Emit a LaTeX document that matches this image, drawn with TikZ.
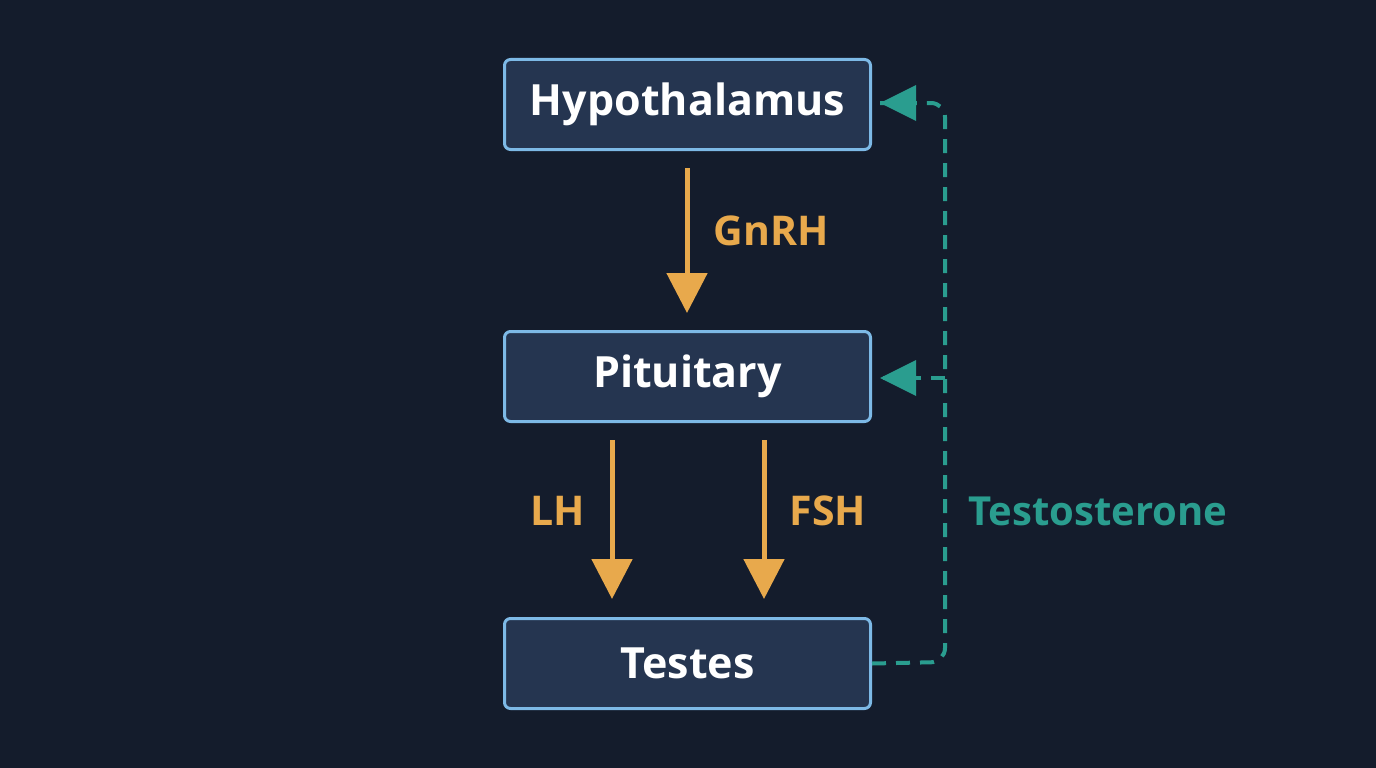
\documentclass[tikz,border=0pt]{standalone}
\usepackage{fontspec}
\setmainfont{Open Sans}
\usetikzlibrary{arrows.meta}
\definecolor{bg}{HTML}{141C2C}
\definecolor{boxf}{HTML}{253550}
\definecolor{boxd}{HTML}{7DB9E6}
\definecolor{org}{HTML}{E8A94C}
\definecolor{teal}{HTML}{2A9D8F}
\begin{document}
\begin{tikzpicture}[x=1pt,y=-1pt,
 box/.style={draw=boxd,line width=3pt,fill=boxf,rounded corners=6pt,minimum width=366pt,minimum height=90pt,text=white,font=\fontsize{43}{45}\selectfont\bfseries},
 oarr/.style={draw=org,line width=5pt,-{Triangle[width=40pt,length=40pt]}},
 olab/.style={text=org,font=\fontsize{41}{43}\selectfont\bfseries},
 tarr/.style={draw=teal,line width=4pt,dash pattern=on 14pt off 10pt,rounded corners=14pt}]
\fill[bg] (0,0) rectangle (1376,768);
\useasboundingbox (0,0) rectangle (1376,768);
\node[box] (h) at (687.5,104.5) {Hypothalamus};
\node[box] (p) at (687.5,376.5) {Pituitary};
\node[box] (t) at (687.5,663.5) {Testes};
\coordinate (g1) at (687,168); \coordinate (g2) at (687,313);
\draw[oarr] (g1) -- (g2);
\node[olab] (gl) at (771,231) {GnRH};
\coordinate (l1) at (612,440); \coordinate (l2) at (612,599);
\draw[oarr] (l1) -- (l2);
\node[olab] (ll) at (558,511) {LH};
\coordinate (f1) at (764,440); \coordinate (f2) at (764,599);
\draw[oarr] (f1) -- (f2);
\node[olab] (fl) at (828,511) {FSH};
\coordinate (c1) at (945,662); \coordinate (c2) at (945,103);
\coordinate (hr) at (880,103); \coordinate (pr) at (880,378); \coordinate (b) at (945,378);
\draw[tarr] (t.east) -- (c1) -- (c2) -- (hr);
\draw[tarr] (b) -- (pr);
\fill[teal] (hr) -- ++(36,-18) -- ++(0,36) -- cycle;
\fill[teal] (pr) -- ++(36,-18) -- ++(0,36) -- cycle;
\node[text=teal,font=\fontsize{40}{42}\selectfont\bfseries] (tl) at (1098,511) {Testosterone};
\end{tikzpicture}
\end{document}
